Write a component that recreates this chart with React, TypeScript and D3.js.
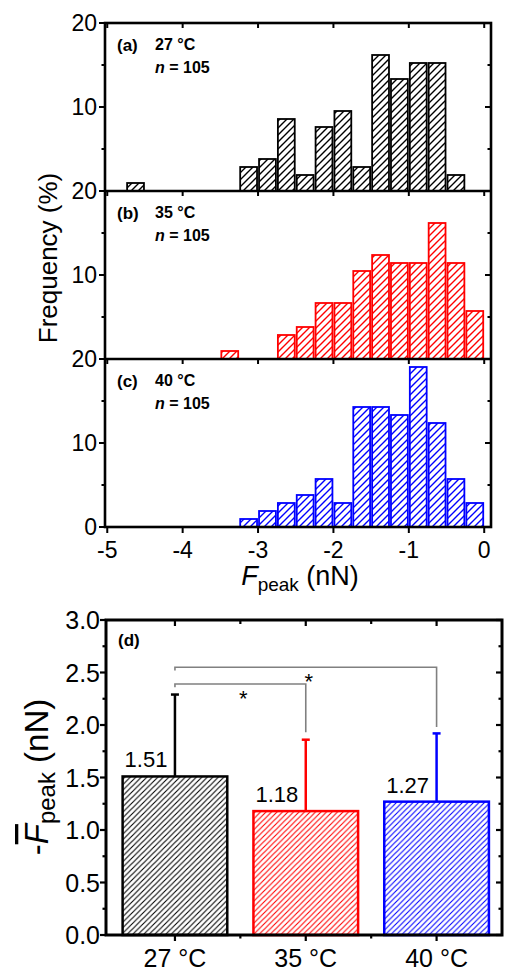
import React from "react";
import * as d3 from "d3";

// ---------- Data ----------
const binStart = [-5, -4.75, -4.5, -4.25, -4, -3.75, -3.5, -3.25, -3, -2.75, -2.5, -2.25, -2, -1.75, -1.5, -1.25, -1, -0.75, -0.5, -0.25];
const binWidth = 0.25;
const countsA = [0, 1, 0, 0, 0, 0, 0, 3, 4, 9, 2, 8, 10, 3, 17, 14, 16, 16, 2, 0];
const countsB = [0, 0, 0, 0, 0, 0, 1, 0, 0, 3, 4, 7, 7, 11, 13, 12, 12, 17, 12, 6];
const countsC = [0, 0, 0, 0, 0, 0, 0, 1, 2, 3, 4, 6, 3, 15, 15, 14, 20, 13, 6, 3];
const sampleN = [105, 105, 105];
const panelLetters = ["(a)", "(b)", "(c)"];
const panelTemps = ["27 °C", "35 °C", "40 °C"];
const colors = ["#000000", "#ff0000", "#0000ff"];
const histXTicks = [-5, -4, -3, -2, -1, 0];
const histYTicks = [0, 10, 20];
const histYMinor = [5, 15];

const categories = ["27 °C", "35 °C", "40 °C"];
const means = [1.51, 1.18, 1.27];
const sds = [0.78, 0.68, 0.65];
const meanLabels = ["1.51", "1.18", "1.27"];
const dYTicks = [0, 0.5, 1, 1.5, 2, 2.5, 3];
const dYMinor = [0.25, 0.75, 1.25, 1.75, 2.25, 2.75];
const brackets = [
  { from: 0, to: 1, level: 2.39, stub: 2.36, end: 1.93 },
  { from: 0, to: 2, level: 2.55, stub: 2.52, end: 1.98 },
];

const FONT = "'Liberation Sans', Arial, Helvetica, sans-serif";

export default function App() {
  const W = 505, H = 969;
  // histogram layout
  const xH = d3.scaleLinear().domain([-5.03, 0.09]).range([105, 491]);
  const panelTops = [23, 191, 359];
  const panelH = 168;
  const allCounts = [countsA, countsB, countsC];

  // panel d layout
  const xD = d3.scaleLinear().domain([-0.527, 2.5]).range([106, 502]);
  const yD = d3.scaleLinear().domain([0, 3]).range([935, 620]);
  const barW = xD(0.4) - xD(-0.4);

  const histPatterns = colors.map((c, i) => (
    <pattern key={"hp" + i} id={"hh" + i} patternUnits="userSpaceOnUse" width={7} height={7}>
      <path d="M0,7 L7,0 M-1,1 L1,-1 M6,8 L8,6" stroke={c} strokeWidth={1.4} />
    </pattern>
  ));
  const dPatterns = colors.map((c, i) => (
    <pattern key={"dp" + i} id={"dh" + i} patternUnits="userSpaceOnUse" width={5.5} height={5.5}>
      <path d="M0,5.5 L5.5,0 M-1,1 L1,-1 M4.5,6.5 L6.5,4.5" stroke={c} strokeWidth={1.1} />
    </pattern>
  ));

  return (
    <svg width={W} height={H} style={{ position: "absolute", left: 0, top: 0, background: "#fff" }} fontFamily={FONT}>
      <defs>
        {histPatterns}
        {dPatterns}
      </defs>

      {/* ---------- Histograms ---------- */}
      {allCounts.map((counts, p) => {
        const top = panelTops[p];
        const y = d3.scaleLinear().domain([0, 20]).range([top + panelH, top]);
        return (
          <g key={"panel" + p}>
            {counts.map((c, i) => {
              if (c === 0) return null;
              const v = (c / sampleN[p]) * 100;
              const x0 = xH(binStart[i]) + 1;
              const x1 = xH(binStart[i] + binWidth) - 1;
              return (
                <rect key={i} x={x0} y={y(v)} width={x1 - x0} height={y(0) - y(v)}
                  fill={`url(#hh${p})`} stroke={colors[p]} strokeWidth={1.8} />
              );
            })}
            {histYTicks.map((t) => (
              <g key={"yt" + t}>
                <line x1={xH.range()[0] - 6} x2={xH.range()[0]} y1={y(t)} y2={y(t)} stroke="#000" strokeWidth={2} />
                <line x1={xH.range()[1] - 6} x2={xH.range()[1]} y1={y(t)} y2={y(t)} stroke="#000" strokeWidth={2} />
              </g>
            ))}
            {histYMinor.map((t) => (
              <g key={"ym" + t}>
                <line x1={xH.range()[0] - 3.5} x2={xH.range()[0]} y1={y(t)} y2={y(t)} stroke="#000" strokeWidth={2} />
                <line x1={xH.range()[1] - 3.5} x2={xH.range()[1]} y1={y(t)} y2={y(t)} stroke="#000" strokeWidth={2} />
              </g>
            ))}
            {histXTicks.map((t) => (
              <line key={"xt" + t} x1={xH(t)} x2={xH(t)} y1={top} y2={top + 5} stroke="#000" strokeWidth={2} />
            ))}
            {[20, 10].map((t) => (
              <text key={"yl" + t} x={97} y={y(t)} dy="0.36em" textAnchor="end" fontSize={23}>{t}</text>
            ))}
            <text x={117} y={top + 28} fontSize={17} fontWeight="bold">{panelLetters[p]}</text>
            <text x={155} y={top + 27} fontSize={16} fontWeight="bold">{panelTemps[p]}</text>
            <text x={155} y={top + 50} fontSize={16} fontWeight="bold">
              <tspan fontStyle="italic">n</tspan> = {sampleN[p]}
            </text>
          </g>
        );
      })}
      <rect x={xH.range()[0]} y={panelTops[0]} width={xH.range()[1] - xH.range()[0]} height={panelH * 3}
        fill="none" stroke="#000" strokeWidth={2.6} />
      {[1, 2].map((p) => (
        <line key={"sep" + p} x1={xH.range()[0]} x2={xH.range()[1]} y1={panelTops[p]} y2={panelTops[p]} stroke="#000" strokeWidth={2.6} />
      ))}
      {histXTicks.map((t) => (
        <g key={"bx" + t}>
          <line x1={xH(t)} x2={xH(t)} y1={panelTops[2] + panelH} y2={panelTops[2] + panelH + 6} stroke="#000" strokeWidth={2} />
          <text x={xH(t)} y={558} textAnchor="middle" fontSize={23}>{String(t)}</text>
        </g>
      ))}
      <text x={97} y={panelTops[2] + panelH} dy="0.36em" textAnchor="end" fontSize={23}>0</text>
      <text x={300} y={585} textAnchor="middle" fontSize={27}>
        <tspan fontStyle="italic">F</tspan>
        <tspan fontSize={19} dy={6}>peak</tspan>
        <tspan dy={-6}> (nN)</tspan>
      </text>
      <text transform="translate(57,258) rotate(-90)" textAnchor="middle" fontSize={26}>Frequency (%)</text>

      {/* ---------- Panel d ---------- */}
      {means.map((m, i) => {
        const cx = xD(i);
        return (
          <g key={"bar" + i}>
            <line x1={cx} x2={cx} y1={yD(m)} y2={yD(m + sds[i])} stroke={colors[i]} strokeWidth={2.5} />
            <line x1={cx - 4} x2={cx + 4} y1={yD(m + sds[i])} y2={yD(m + sds[i])} stroke={colors[i]} strokeWidth={2.5} />
            <rect x={cx - barW / 2} y={yD(m)} width={barW} height={yD(0) - yD(m)}
              fill={`url(#dh${i})`} stroke={colors[i]} strokeWidth={2.5} />
            <text x={cx - barW / 2 + 2} y={yD(m) - 9} fontSize={22}>{meanLabels[i]}</text>
            <text x={cx} y={967} textAnchor="middle" fontSize={25}>{categories[i]}</text>
          </g>
        );
      })}
      {brackets.map((b, i) => (
        <path key={"br" + i}
          d={`M${xD(b.from)},${yD(b.stub)} V${yD(b.level)} H${xD(b.to)} V${yD(b.end)}`}
          fill="none" stroke="#808080" strokeWidth={1.6} />
      ))}
      <text x={(xD(0) + xD(1)) / 2 + 3} y={yD(2.39) + 22} textAnchor="middle" fontSize={22}>*</text>
      <text x={xD(1) + 3} y={yD(2.55) + 22} textAnchor="middle" fontSize={22}>*</text>

      <rect x={xD.range()[0]} y={yD(3)} width={xD.range()[1] - xD.range()[0]} height={yD(0) - yD(3)}
        fill="none" stroke="#000" strokeWidth={3} />
      {dYTicks.map((t) => (
        <g key={"dy" + t}>
          <line x1={xD.range()[0] - 6} x2={xD.range()[0]} y1={yD(t)} y2={yD(t)} stroke="#000" strokeWidth={2.2} />
          <line x1={xD.range()[1] - 6} x2={xD.range()[1]} y1={yD(t)} y2={yD(t)} stroke="#000" strokeWidth={2.2} />
          <text x={100} y={yD(t)} dy="0.36em" textAnchor="end" fontSize={25}>{t.toFixed(1)}</text>
        </g>
      ))}
      {dYMinor.map((t) => (
        <g key={"dm" + t}>
          <line x1={xD.range()[0] - 3.5} x2={xD.range()[0]} y1={yD(t)} y2={yD(t)} stroke="#000" strokeWidth={2.2} />
          <line x1={xD.range()[1] - 3.5} x2={xD.range()[1]} y1={yD(t)} y2={yD(t)} stroke="#000" strokeWidth={2.2} />
        </g>
      ))}
      {[0, 0.5, 1, 1.5, 2].map((t) => (
        <g key={"dx" + t}>
          <line x1={xD(t)} x2={xD(t)} y1={yD(3)} y2={yD(3) + (t % 1 === 0 ? 6 : 4)} stroke="#000" strokeWidth={2.2} />
          <line x1={xD(t)} x2={xD(t)} y1={yD(0)} y2={yD(0) + (t % 1 === 0 ? 6 : 3.5)} stroke="#000" strokeWidth={2.2} />
        </g>
      ))}
      <text x={118} y={646} fontSize={17} fontWeight="bold">(d)</text>
      <text transform="translate(48,777) rotate(-90)" textAnchor="middle" fontSize={33}>
        <tspan>-</tspan>
        <tspan fontStyle="italic" style={{ textDecoration: "overline" }}>F</tspan>
        <tspan fontSize={24} dy={7}>peak</tspan>
        <tspan dy={-7}> (nN)</tspan>
      </text>
    </svg>
  );
}
